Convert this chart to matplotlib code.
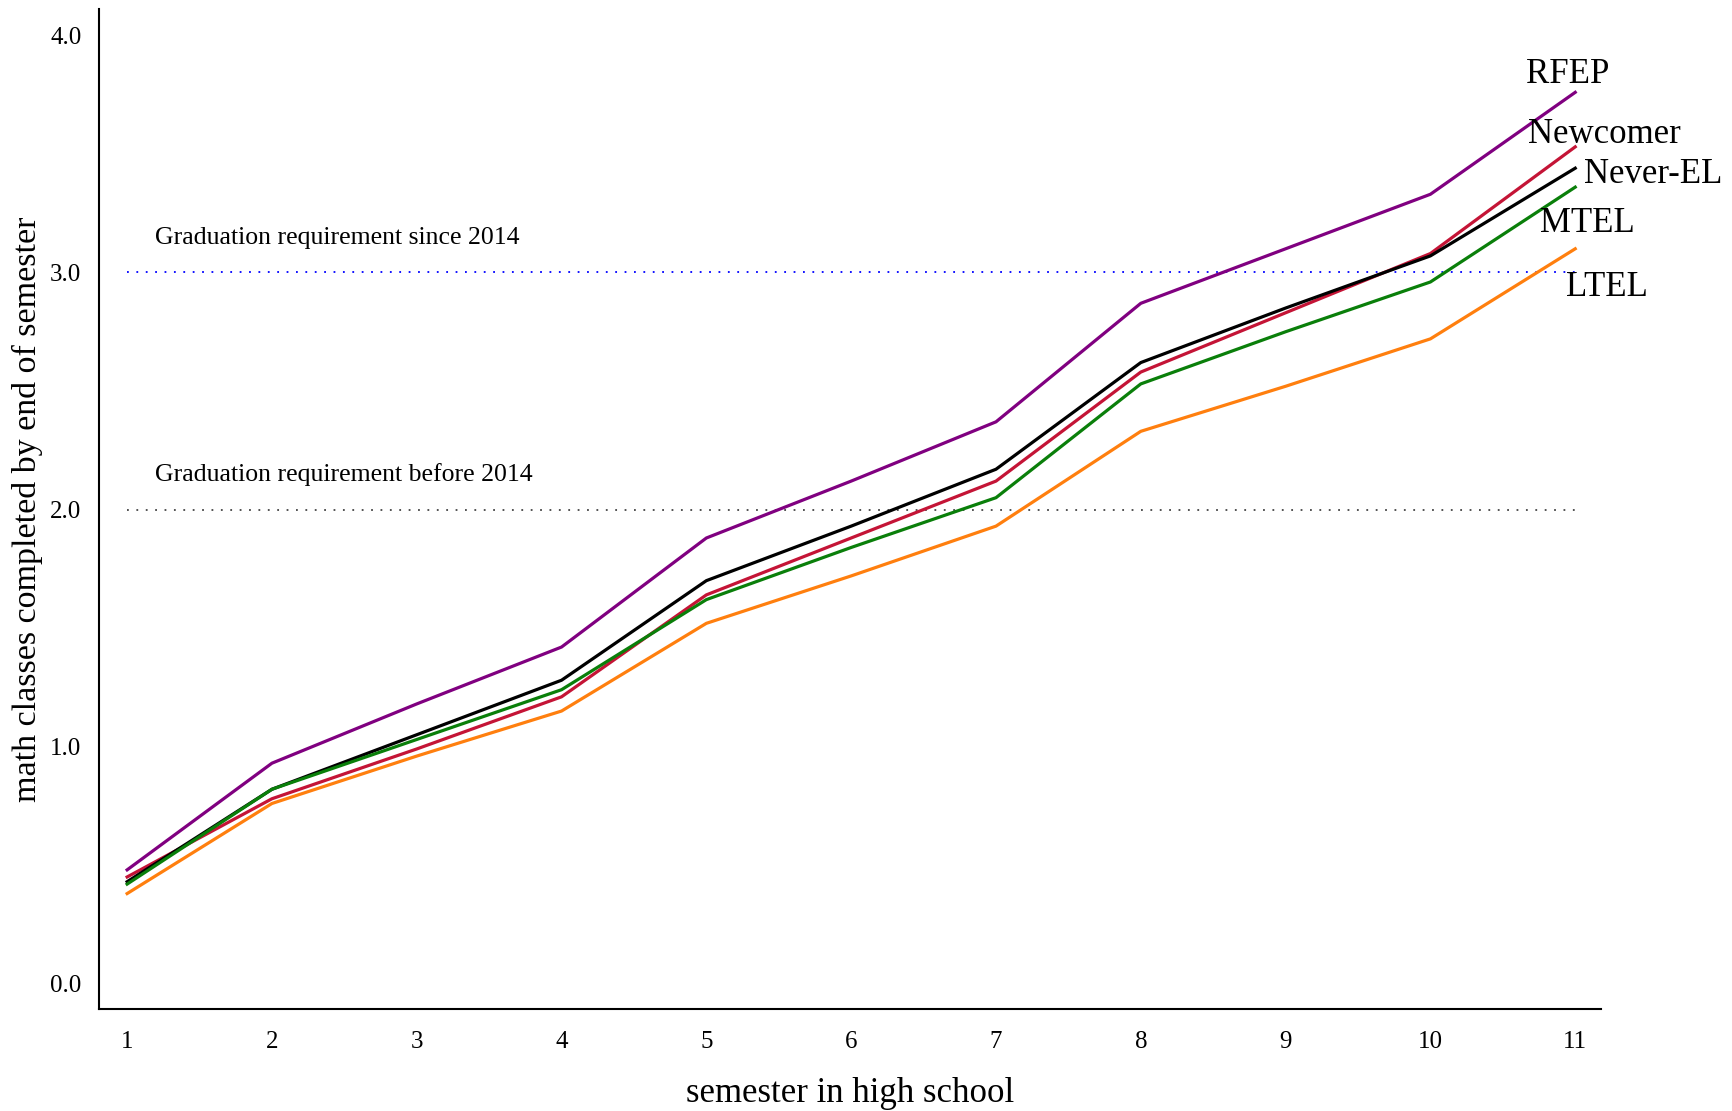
import numpy as np
import matplotlib.pyplot as plt

plt.rcParams['font.family'] = ['Liberation Serif', 'DejaVu Serif']

# Data
semesters = [1, 2, 3, 4, 5, 6, 7, 8, 9, 10, 11]

rfep = [0.48, 0.93, 1.18, 1.42, 1.88, 2.12, 2.37, 2.87, 3.10, 3.33, 3.76]
newcomer = [0.45, 0.78, 0.99, 1.21, 1.64, 1.88, 2.12, 2.58, 2.83, 3.08, 3.53]
never_el = [0.43, 0.82, 1.05, 1.28, 1.70, 1.93, 2.17, 2.62, 2.85, 3.07, 3.44]
mtel = [0.42, 0.82, 1.03, 1.24, 1.62, 1.84, 2.05, 2.53, 2.75, 2.96, 3.36]
ltel = [0.38, 0.76, 0.96, 1.15, 1.52, 1.72, 1.93, 2.33, 2.52, 2.72, 3.10]

series = [
    ("RFEP", rfep, "#800080", 3.835, 10.66),
    ("Newcomer", newcomer, "#C41436", 3.58, 10.675),
    ("Never-EL", never_el, "black", 3.415, 11.06),
    ("MTEL", mtel, "#0A7F0A", 3.205, 10.76),
    ("LTEL", ltel, "#FF7F0E", 2.937, 10.935),
]

# Graduation requirement reference lines
req_levels = [3.0, 2.0]
req_labels = ["Graduation requirement since 2014", "Graduation requirement before 2014"]
req_colors = ["blue", "#444444"]

fig = plt.figure(figsize=(17.33, 11.11), dpi=100)
ax = fig.add_axes([0.0574, 0.0918, 0.9240 - 0.0574, 0.992 - 0.0918])

for level, label, color in zip(req_levels, req_labels, req_colors):
    ax.hlines(level, 1, 11, colors=color, linestyles=(0, (1, 4.2)), linewidth=1.3)
    ax.text(1.19, level + 0.147, label, fontsize=18.5, va="center", ha="left")

for name, vals, color, ty, tx in series:
    ax.plot(semesters, vals, color=color, linewidth=2.3)
    ax.text(tx, ty, name, fontsize=25, va="center", ha="left")

ax.set_xlim(0.809, 11.18)
ax.set_ylim(-0.107, 4.112)
ax.set_xticks(semesters)
ax.set_yticks([0, 1, 2, 3, 4])
ax.set_yticklabels(["0.0", "1.0", "2.0", "3.0", "4.0"])
ax.tick_params(axis="both", length=0, labelsize=18)
ax.tick_params(axis="y", pad=13)
ax.tick_params(axis="x", pad=16)

for side in ["top", "right"]:
    ax.spines[side].set_visible(False)
for side in ["left", "bottom"]:
    ax.spines[side].set_linewidth(1.5)

ax.set_xlabel("semester in high school", fontsize=25, labelpad=17)
ax.set_ylabel("math classes completed by end of semester", fontsize=24.5, labelpad=5)

fig.savefig("out.png", dpi=100)
